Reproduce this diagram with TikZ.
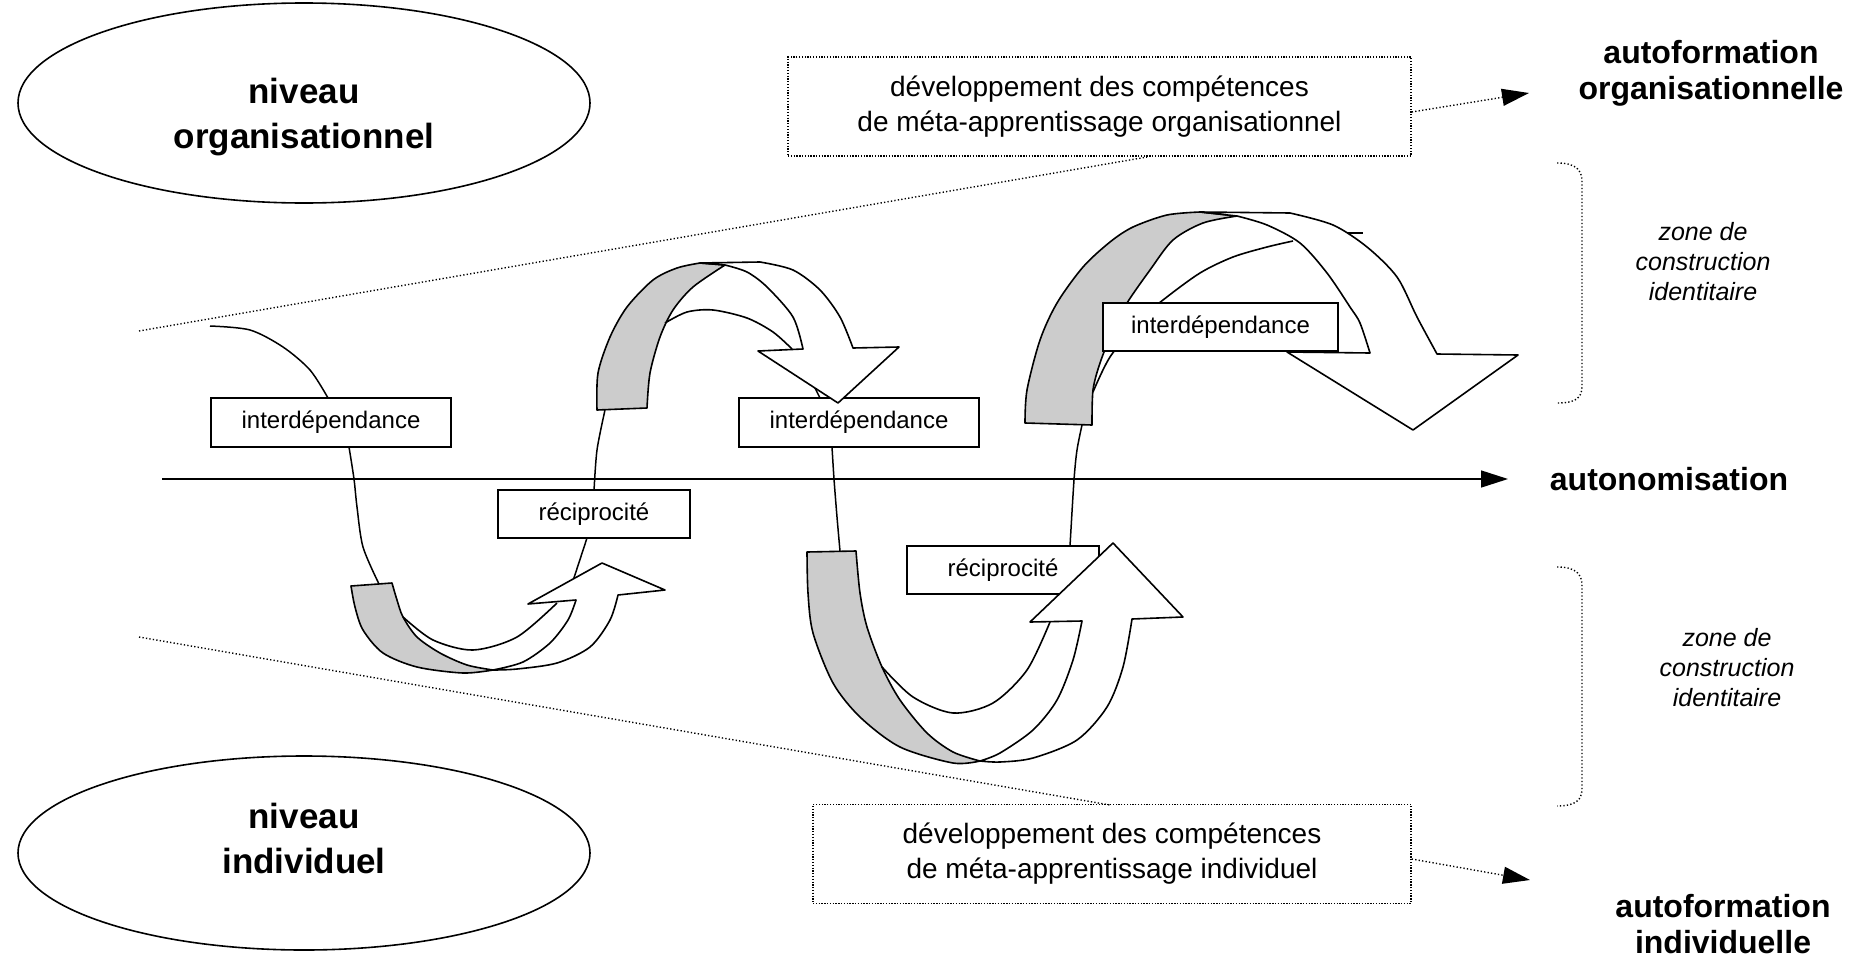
\documentclass[tikz,border=0pt]{standalone}
\usepackage{fontspec}
\setmainfont{Liberation Sans}
\usetikzlibrary{arrows.meta,shapes.geometric}
\begin{document}
\begin{tikzpicture}[x=1pt,y=-1pt,
  thinl/.style={line width=1.5pt},
  dotl/.style={line width=1.4pt, dash pattern=on 1.3pt off 2.2pt},
  boxn/.style={draw, line width=1.8pt, fill=white, minimum width=240pt, minimum height=49pt, inner sep=0pt, font=\fontsize{24}{28}\selectfont},
  dbox/.style={draw, line width=1.4pt, dash pattern=on 1.3pt off 1.5pt, minimum width=623pt, minimum height=99pt, inner sep=0pt, align=center, font=\fontsize{28}{35}\selectfont},
  ribbon/.style={draw, line width=1.6pt, line join=round},
  grayband/.style={ribbon, fill=gray!40},
  front/.style={ribbon, fill=white},
  bigtip/.style={-{Triangle[length=27pt,width=17pt]}},
  boldlab/.style={align=center, font=\fontsize{32}{36}\selectfont\bfseries},
  zonelab/.style={align=center, font=\fontsize{25}{30}\selectfont\itshape},
  ell/.style={draw, ellipse, line width=1.6pt, minimum width=572pt, inner sep=0pt},
  elllab/.style={align=center, font=\fontsize{35}{45}\selectfont\bfseries}
]
\useasboundingbox (0,0) rectangle (1852,953);

% ellipses
\node[ell, minimum height=200pt] (e1) at (304,103) {};
\node[elllab] (e1t) at (304,117) {niveau\\organisationnel};
\node[ell, minimum height=194pt] (e2) at (304,853) {};
\node[elllab] (e2t) at (304,838) {niveau\\individuel};

% dotted boxes
\node[dbox] (d1) at (1099.5,106.5) {d\'eveloppement des comp\'etences\\de m\'eta-apprentissage organisationnel};
\node[dbox, minimum width=598pt] (d2) at (1112,854) {d\'eveloppement des comp\'etences\\de m\'eta-apprentissage individuel};

% labels right
\node[boldlab] (l1) at (1711,73) {autoformation\\organisationnelle};
\node[boldlab] (l2) at (1669,479) {autonomisation};
\node[boldlab] (l3) at (1723,924) {autoformation\\individuelle};
\node[zonelab] (z1) at (1703,262) {zone de\\construction\\identitaire};
\node[zonelab] (z2) at (1727,668) {zone de\\construction\\identitaire};

% dotted diagonals
\coordinate (u0) at (139,331);
\coordinate (u1) at (1147,157);
\coordinate (w0) at (139,637);
\coordinate (w1) at (1110,805);
\draw[dotl] (u0) -- (u1);
\draw[dotl] (w0) -- (w1);

% dotted arrows
\coordinate (t1) at (1529,93);
\coordinate (t2) at (1530,880);
\draw[dotl, bigtip] (d1.east |- 0,112) -- (t1);
\draw[dotl, bigtip] (d2.east |- 0,859) -- (t2);

% braces
\draw[dotl] (1557,163) .. controls (1576,163) and (1582,170) .. (1582,182) -- (1582,386) .. controls (1582,398) and (1576,403) .. (1557,403);
\draw[dotl] (1557,567) .. controls (1576,567) and (1582,574) .. (1582,586) -- (1582,788) .. controls (1582,800) and (1576,806) .. (1557,806);

% axis
\coordinate (a0) at (162,479);
\coordinate (a1) at (1508,479);
\draw[thinl, bigtip] (a0) -- (a1);

% thin lines
\draw[thinl] plot[smooth] coordinates {(210,326) (250,330) (283,347) (310,370) (328,398)};
\draw[thinl] plot[smooth] coordinates {(349,447) (354,479) (357,507) (363,547) (379,584)};
\draw[thinl] (587,538) -- (570,590);
\draw[thinl] plot[smooth] coordinates {(594,491) (597,450) (605,410)};
\draw[thinl] (820,398) -- (810,378);
\draw[thinl] plot[smooth] coordinates {(832,447) (834,479) (837,517) (840,551)};
\draw[thinl] plot[smooth] coordinates {(1070,546) (1074,480) (1077,450) (1082,425)};

% arrow 1
\filldraw[grayband] (351,586) -- plot[smooth] coordinates {(351,586) (355,607) (363,630) (383,653) (417,667) (463,673) (493,670)} -- plot[smooth] coordinates {(493,670) (467,665) (440,653) (417,637) (403,617) (397,600) (392,583)} -- cycle;
\filldraw[front] (493,670) -- plot[smooth] coordinates {(493,670) (523,662) (550,643) (568,620) (576,600)} -- (528,604) -- (602,563) -- (665,590) -- (618,595) -- plot[smooth] coordinates {(618,595) (610,620) (590,647) (557,663) (517,669) (493,670)} -- cycle;
\draw[ribbon] plot[smooth] coordinates {(403,617) (433,640) (473,650) (517,637) (557,603)};

% arrow 4
\filldraw[grayband] (1025,423) -- plot[smooth] coordinates {(1025,423) (1027,390) (1040,340) (1057,303) (1083,267) (1110,242) (1133,227) (1167,215) (1200,212)} -- (1237,216) -- plot[smooth] coordinates {(1237,216) (1203,223) (1173,240) (1150,270) (1127,303) (1113,330) (1100,363) (1093,390) (1092,425)} -- cycle;
\filldraw[front] (1200,212) -- (1290,213) -- plot[smooth] coordinates {(1290,213) (1333,225) (1367,247) (1397,277) (1417,317) (1437,354)} -- (1518,355) -- (1413,430) -- (1287,352) -- (1370,353) -- plot[smooth] coordinates {(1370,353) (1360,323) (1350,307) (1327,273) (1300,243) (1267,225) (1237,216)} -- cycle;
\draw[ribbon] plot[smooth] coordinates {(1093,392) (1110,357) (1140,320) (1163,300) (1200,273) (1233,257) (1267,247) (1293,241)};
\draw[ribbon] (1347,233) -- (1363,233);

% boxes
\node[boxn] (b1) at (331,422.5) {interd\'ependance};
\node[boxn, minimum width=235pt, minimum height=48pt] (b3) at (1220.5,327) {interd\'ependance};
\node[boxn, minimum width=192pt, minimum height=48pt] (r1) at (594,514) {r\'eciprocit\'e};
\node[boxn] (b2) at (859,422.5) {interd\'ependance};
\node[boxn, minimum width=192pt, minimum height=48pt] (r2) at (1003,570) {r\'eciprocit\'e};

% arrow 2
\filldraw[grayband] (597,410) -- plot[smooth] coordinates {(597,410) (598,373) (610,337) (627,307) (653,280) (677,268) (700,263)} -- (725,265) -- plot[smooth] coordinates {(725,265) (693,287) (673,310) (660,337) (650,373) (647,408)} -- cycle;
\filldraw[front] (700,263) -- (760,262) -- plot[smooth] coordinates {(760,262) (793,270) (820,290) (840,317) (853,348)} -- (899,347) -- (838,403) -- (758,351) -- (803,349) -- plot[smooth] coordinates {(803,349) (793,317) (767,287) (747,272) (725,265)} -- cycle;
\draw[ribbon] plot[smooth] coordinates {(665,323) (687,312) (713,310) (747,318) (773,332) (792,349)};

% arrow 3
\filldraw[grayband] (807,552) -- plot[smooth] coordinates {(807,552) (808,593) (813,633) (833,683) (860,717) (900,747) (953,763) (980,761)} -- plot[smooth] coordinates {(980,761) (953,752) (927,733) (900,700) (882,667) (867,627) (860,593) (856,551)} -- cycle;
\filldraw[front] (980,761) -- plot[smooth] coordinates {(980,761) (1000,753) (1033,730) (1057,700) (1073,660) (1082,621)} -- (1030,622) -- (1113,543) -- (1183,617) -- (1132,619) -- plot[smooth] coordinates {(1132,619) (1123,667) (1107,707) (1077,740) (1033,758) (1000,762) (980,761)} -- cycle;
\draw[ribbon] plot[smooth] coordinates {(882,667) (913,697) (953,713) (993,703) (1027,670) (1050,622)};

\end{tikzpicture}
\end{document}
